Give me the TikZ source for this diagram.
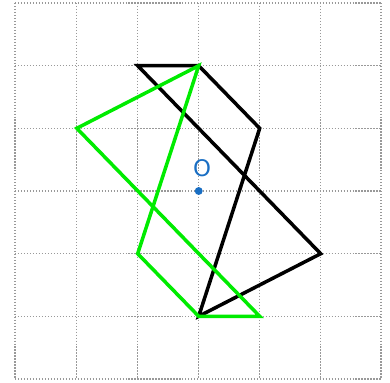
\documentclass[tikz,border=0pt]{standalone}
\usepackage{fontspec}
\setmainfont{DejaVu Sans}
\definecolor{ptblue}{RGB}{25,110,195}
\definecolor{ptgreen}{RGB}{0,235,0}
\begin{document}
\begin{tikzpicture}[x=0.02cm,y=-0.02cm,
  gridline/.style={gray!80,line width=0.7pt,dash pattern=on 0.7pt off 1pt},
  shapeline/.style={line width=2pt,line join=miter},
]
\useasboundingbox (0,0) rectangle (390,383);
% grid
\foreach \gx in {15,76.8,137.7,198.7,259.7,320.7,381} {
  \draw[gridline] (\gx,3) -- (\gx,379);
}
\foreach \gy in {3,65.7,128.3,191,253.7,316.3,379} {
  \draw[gridline] (15,\gy) -- (381,\gy);
}
% black polygon
\coordinate (b1) at (137.7,65.7);
\coordinate (b2) at (198.7,65.7);
\coordinate (b3) at (259.7,128.3);
\coordinate (b4) at (198.7,316.3);
\coordinate (b5) at (320.7,253.7);
\draw[shapeline,black] (b1) -- (b2) -- (b3) -- (b4) -- (b5) -- cycle;
% green polygon
\coordinate (g1) at (198.7,65.7);
\coordinate (g2) at (76.8,128.3);
\coordinate (g3) at (259.7,316.3);
\coordinate (g4) at (198.7,316.3);
\coordinate (g5) at (137.7,253.7);
\draw[shapeline,ptgreen] (g1) -- (g2) -- (g3) -- (g4) -- (g5) -- cycle;
% origin
\node[circle,fill=ptblue,inner sep=0pt,minimum size=4.5pt] (o) at (198.7,191) {};
\node[text=ptblue,font=\fontsize{13}{15}\selectfont,inner sep=0pt] (olabel) at (202,168) {O};
\end{tikzpicture}
\end{document}
